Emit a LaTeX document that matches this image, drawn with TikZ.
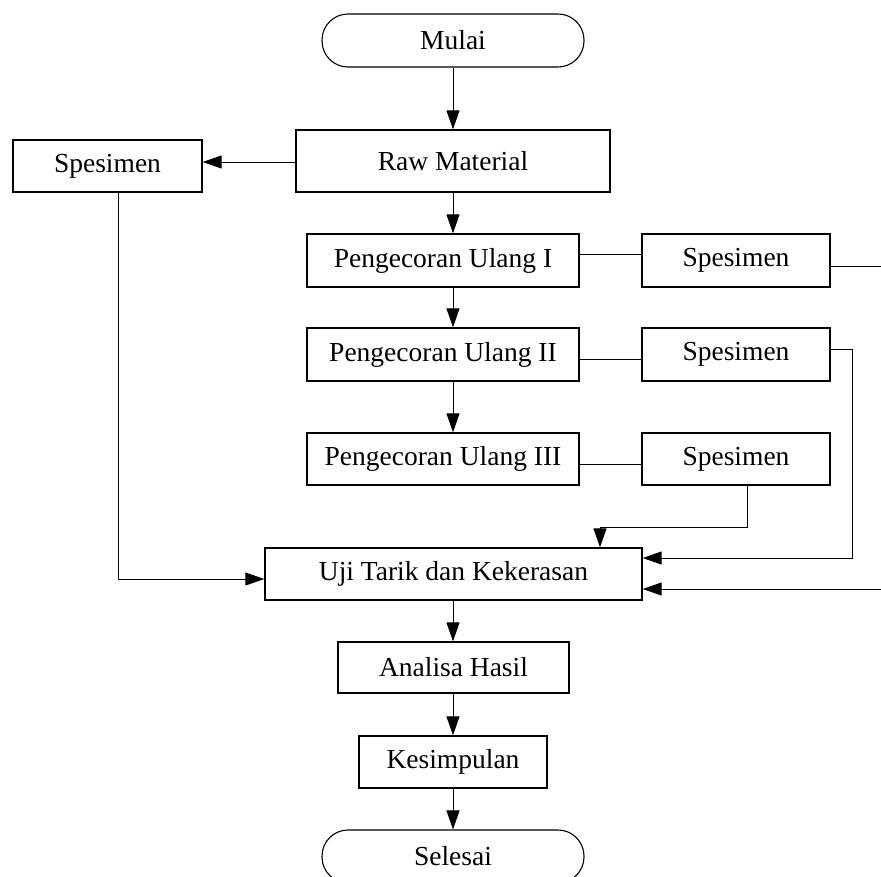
\documentclass[tikz,border=0pt]{standalone}
\usepackage{fontspec}
\setmainfont{Liberation Serif}
\usetikzlibrary{arrows.meta}
\begin{document}
\begin{tikzpicture}[x=1pt,y=-1pt,
  font=\fontsize{27.5}{32}\selectfont,
  box/.style={draw, line width=1.4pt, inner sep=0pt, minimum width=#1},
  term/.style={draw, line width=1.1pt, rounded corners=26pt, inner sep=0pt, minimum width=262pt, minimum height=53pt},
  conn/.style={line width=1pt},
  arr/.style={line width=1pt, -{Triangle[length=19pt,width=13pt]}}]
\useasboundingbox (0,0) rectangle (881,876);
\clip (0,0) rectangle (881,876);
\node[term] (mulai) at (453,40.5) {Mulai};
\node[box=314pt, minimum height=62pt] (raw) at (453,161) {Raw Material};
\node[box=189pt, minimum height=52pt] (spl) at (107.5,166) {Spesimen};
\node[box=272pt, minimum height=53pt] (p1) at (443,260.5) {Pengecoran Ulang I};
\node[box=272pt, minimum height=53pt] (p2) at (443,354.5) {Pengecoran Ulang II};
\node[box=272pt, minimum height=52pt] (p3) at (443,459) {Pengecoran Ulang III};
\node[box=188pt, minimum height=53pt] (s1) at (736,260.5) {Spesimen};
\node[box=188pt, minimum height=53pt] (s2) at (736,354.5) {Spesimen};
\node[box=188pt, minimum height=52pt] (s3) at (736,459) {Spesimen};
\node[box=377pt, minimum height=52pt] (uji) at (453.5,574) {Uji Tarik dan Kekerasan};
\node[box=231pt, minimum height=51pt] (anal) at (453.5,667.5) {Analisa Hasil};
\node[box=188pt, minimum height=52pt] (kes) at (453,762) {Kesimpulan};
\node[term] (sel) at (453,856.5) {Selesai};
\coordinate (e1) at (881,266);
\coordinate (e2) at (881,589);
% main flow
\draw[arr] (mulai.south) -- (raw.north);
\draw[arr] (raw.west |- 0,162) -- (spl.east |- 0,162);
\draw[arr] (raw.south) -- (raw.south |- p1.north);
\draw[arr] (p1.south -| raw.south) -- (p2.north -| raw.south);
\draw[arr] (p2.south -| raw.south) -- (p3.north -| raw.south);
\draw[arr] (uji.south -| kes.north) -- (anal.north -| kes.north);
\draw[arr] (anal.south -| kes.north) -- (kes.north);
\draw[arr] (kes.south) -- (sel.north);
% side connectors
\draw[conn] ([yshift=6.5pt]p1.east) -- ([yshift=6.5pt]p1.east -| s1.west);
\draw[conn] ([yshift=-4.5pt]p2.east) -- ([yshift=-4.5pt]p2.east -| s2.west);
\draw[conn] ([yshift=-5pt]p3.east) -- ([yshift=-5pt]p3.east -| s3.west);
\draw[conn] (s1.east |- e1) -- (e1);
\draw[arr] (e2) -- (uji.east |- e2);
\draw[arr] ([yshift=5.5pt]s2.east) -| (852,558) -- ([yshift=16pt]uji.east);
\draw[arr] ([xshift=11pt]s3.south) |- (600,527) -- (uji.north -| 600,0);
\draw[arr] ([xshift=10.5pt]spl.south) |- ([yshift=-5pt]uji.west);
\end{tikzpicture}
\end{document}
